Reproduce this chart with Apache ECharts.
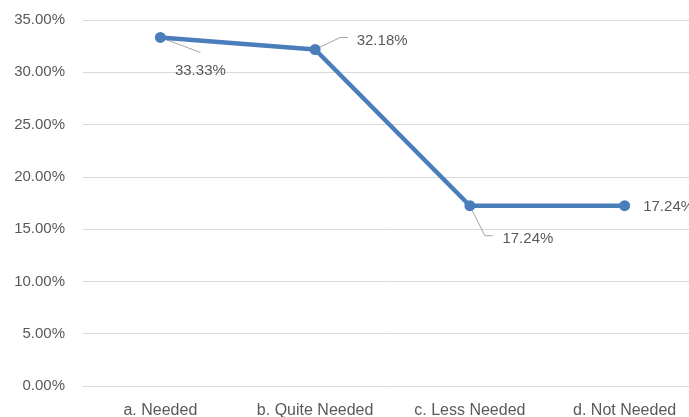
<!DOCTYPE html>
<html>
<head>
<meta charset="utf-8">
<style>
  html, body { margin: 0; padding: 0; background: #ffffff; }
  #chart { width: 689px; height: 417px; }
</style>
<script src="https://cdn.jsdelivr.net/npm/echarts@6/dist/echarts.min.js"></script>
</head>
<body>
<div id="chart"></div>
<script>
// Share of responses per need level (percent)
const categories = ['a. Needed', 'b. Quite Needed', 'c. Less Needed', 'd. Not Needed'];
const shares = [33.33, 32.18, 17.24, 17.24];

// Label offsets from each point (dx, dy)
const labelOffsets = [[40, 33], [67, -9], [58, 33], [44, 1]];
// Leader polylines, relative to each point (empty = no leader)
const leaderPaths = [
  [[0, 0], [40, 15]],
  [[0, 0], [25, -12], [33, -12]],
  [[0, 0], [15, 30], [23, 30]],
  []
];

const textColor = '#595959';
const fontFamily = '"Liberation Sans", Arial, sans-serif';
const blue = '#4a7ebb';
const chart = echarts.init(document.getElementById('chart'), null, { renderer: 'canvas' });

chart.setOption({
  animation: false,
  backgroundColor: '#ffffff',
  grid: { left: 83, width: 619, top: 20, bottom: 31, outerBoundsMode: 'none', containLabel: false },
  xAxis: {
    type: 'category',
    data: categories,
    boundaryGap: true,
    axisLine: { show: true, lineStyle: { color: '#d9d9d9', width: 1 } },
    axisTick: { show: false },
    axisLabel: {
      color: textColor,
      fontFamily: fontFamily,
      fontSize: 16,
      margin: 17,
      interval: 0
    }
  },
  yAxis: {
    type: 'value',
    min: 0,
    max: 35,
    interval: 5,
    axisLine: { show: false },
    axisTick: { show: false },
    splitLine: { lineStyle: { color: '#d9d9d9', width: 1 } },
    axisLabel: {
      color: textColor,
      fontFamily: fontFamily,
      fontSize: 15,
      margin: 18,
      formatter: v => v.toFixed(2) + '%'
    }
  },
  series: [
    {
      // leader lines joining points to their moved labels
      type: 'custom',
      z: 1,
      silent: true,
      data: shares.map((v, i) => [i, v]),
      renderItem: (params, api) => {
        const i = params.dataIndex;
        const path = leaderPaths[i];
        if (!path.length) return null;
        const c = api.coord([api.value(0), api.value(1)]);
        return {
          type: 'polyline',
          shape: { points: path.map(p => [c[0] + p[0], c[1] + p[1]]) },
          style: { stroke: '#a6a6a6', lineWidth: 1, fill: null }
        };
      }
    },
    {
      type: 'line',
      z: 2,
      data: shares,
      symbol: 'circle',
      symbolSize: 11,
      lineStyle: { color: blue, width: 4.5 },
      itemStyle: { color: blue },
      label: {
        show: true,
        position: 'inside',
        color: textColor,
        fontFamily: fontFamily,
        fontSize: 15,
        formatter: p => p.value.toFixed(2) + '%'
      },
      labelLine: { show: false },
      labelLayout: p => ({
        dx: labelOffsets[p.dataIndex][0],
        dy: labelOffsets[p.dataIndex][1]
      })
    }
  ]
});
</script>
</body>
</html>
